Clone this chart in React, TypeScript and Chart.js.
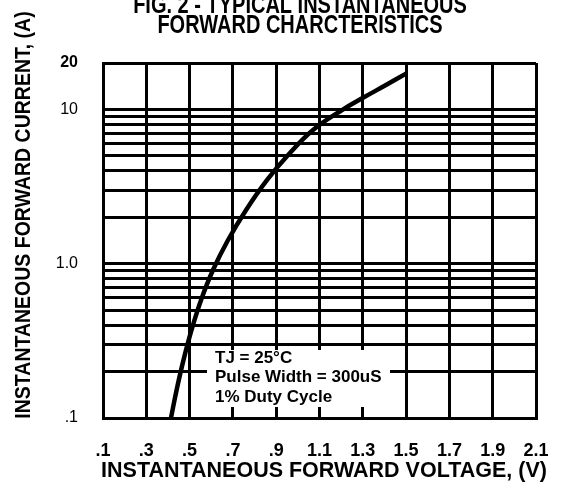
import React, { useEffect, useRef } from "react";
import { Chart, registerables } from "chart.js";

Chart.register(...registerables);

// Curve data
const voltage = [0.414, 0.44, 0.472, 0.509, 0.553, 0.608, 0.677, 0.761, 0.858, 0.955, 1.07, 1.204, 1.301, 1.407, 1.504];
const current = [0.1, 0.152, 0.238, 0.372, 0.582, 0.91, 1.42, 2.23, 3.49, 5.06, 7.35, 9.91, 11.9, 14.4, 17.2];

// Axes
const xTickValues = [0.1, 0.3, 0.5, 0.7, 0.9, 1.1, 1.3, 1.5, 1.7, 1.9, 2.1];
const xTickLabels = [".1", ".3", ".5", ".7", ".9", "1.1", "1.3", "1.5", "1.7", "1.9", "2.1"];
const yGridValues = [0.1, 0.2, 0.3, 0.4, 0.5, 0.6, 0.7, 0.8, 0.9, 1, 2, 3, 4, 5, 6, 7, 8, 9, 10, 20];
const yTickValues = [0.1, 1, 10, 20];
const yTickLabels = [".1", "1.0", "10", "20"];

const titleLines = ["FIG. 2 - TYPICAL INSTANTANEOUS", "FORWARD CHARCTERISTICS"];
const xTitle = "INSTANTANEOUS FORWARD VOLTAGE, (V)";
const yTitle = "INSTANTANEOUS FORWARD CURRENT, (A)";
const noteLines = ["TJ = 25°C", "Pulse Width = 300uS", "1% Duty Cycle"];

const FONT = '"Liberation Sans", Arial, Helvetica, sans-serif';

function labelFor(v: number): string {
  for (let i = 0; i < yTickValues.length; i++) {
    if (Math.abs(v - yTickValues[i]) < 1e-9 * Math.max(1, yTickValues[i])) return yTickLabels[i];
  }
  return "";
}

const textPlugin = {
  id: "textPlugin",
  afterDraw(chart: any) {
    const ctx = chart.ctx as CanvasRenderingContext2D;
    const a = chart.chartArea;
    ctx.save();
    // note box
    ctx.fillStyle = "#ffffff";
    ctx.fillRect(a.left + 104, a.top + 287, 183, 57);
    ctx.fillStyle = "#000000";
    ctx.font = `bold 17px ${FONT}`;
    ctx.textAlign = "left";
    ctx.textBaseline = "middle";
    noteLines.forEach((t, i) => ctx.fillText(t, a.left + 112, a.top + 295 + i * 19.5));

    // main title (tall, narrow lettering)
    ctx.save();
    ctx.translate(300, 0);
    ctx.scale(1, 1.25);
    ctx.font = `bold 20px ${FONT}`;
    ctx.textAlign = "center";
    ctx.textBaseline = "alphabetic";
    ctx.fillText(titleLines[0], 0, 13 / 1.25);
    ctx.fillText(titleLines[1], 0, 33 / 1.25);
    ctx.restore();

    // x title
    ctx.font = `bold 21.5px ${FONT}`;
    ctx.textAlign = "center";
    ctx.textBaseline = "middle";
    ctx.fillText(xTitle, 324, 471);

    // y title
    ctx.save();
    ctx.translate(24, 215);
    ctx.rotate(-Math.PI / 2);
    ctx.scale(1, 1.1);
    ctx.font = `bold 19.5px ${FONT}`;
    ctx.textAlign = "center";
    ctx.textBaseline = "middle";
    ctx.fillText(yTitle, 0, 0);
    ctx.restore();

    ctx.restore();
  },
};

export default function App() {
  const ref = useRef<HTMLCanvasElement | null>(null);

  useEffect(() => {
    if (!ref.current) return;
    const chart = new Chart(ref.current, {
      type: "line",
      data: {
        datasets: [
          {
            data: voltage.map((v, i) => ({ x: v, y: current[i] })),
            borderColor: "#000000",
            borderWidth: 4.5,
            pointRadius: 0,
            tension: 0.4,
            fill: false,
          },
        ],
      },
      options: {
        animation: false,
        responsive: false,
        devicePixelRatio: 1,
        layout: { padding: { top: 63, right: 30, left: 0, bottom: 0 } },
        plugins: { legend: { display: false }, tooltip: { enabled: false }, title: { display: false } },
        scales: {
          x: {
            type: "linear",
            min: 0.1,
            max: 2.1,
            afterBuildTicks: (scale: any) => {
              scale.ticks = xTickValues.map((v) => ({ value: v }));
            },
            afterFit: (scale: any) => {
              scale.height = 74;
              scale.paddingLeft = 0;
              scale.paddingRight = 0;
            },
            grid: { color: "#000000", lineWidth: 3, drawTicks: false },
            border: { display: true, color: "#000000", width: 3 },
            ticks: {
              autoSkip: false,
              maxRotation: 0,
              padding: 22,
              color: "#000000",
              font: { family: FONT, size: 18, weight: "bold" },
              callback: (_v: any, i: number) => xTickLabels[i],
            },
          },
          y: {
            type: "logarithmic",
            min: 0.1,
            max: 20,
            afterBuildTicks: (scale: any) => {
              scale.ticks = yGridValues.map((v) => ({ value: v }));
            },
            afterFit: (scale: any) => {
              scale.width = 103;
              scale.paddingTop = 0;
              scale.paddingBottom = 0;
            },
            grid: { color: "#000000", lineWidth: 3, drawTicks: false },
            border: { display: true, color: "#000000", width: 3 },
            ticks: {
              autoSkip: false,
              padding: 25,
              color: "#000000",
              font: (c: any) => ({
                family: FONT,
                size: 16,
                weight: c.tick && Math.abs(c.tick.value - 20) < 1e-9 ? "bold" : "normal",
              }),
              callback: (v: any) => labelFor(Number(v)),
            },
          },
        },
      },
      plugins: [textPlugin],
    } as any);
    return () => chart.destroy();
  }, []);

  return (
    <div style={{ position: "absolute", left: 0, top: 0, width: 566, height: 492, background: "#fff" }}>
      <canvas ref={ref} width={566} height={492} style={{ width: 566, height: 492, display: "block" }} />
    </div>
  );
}
